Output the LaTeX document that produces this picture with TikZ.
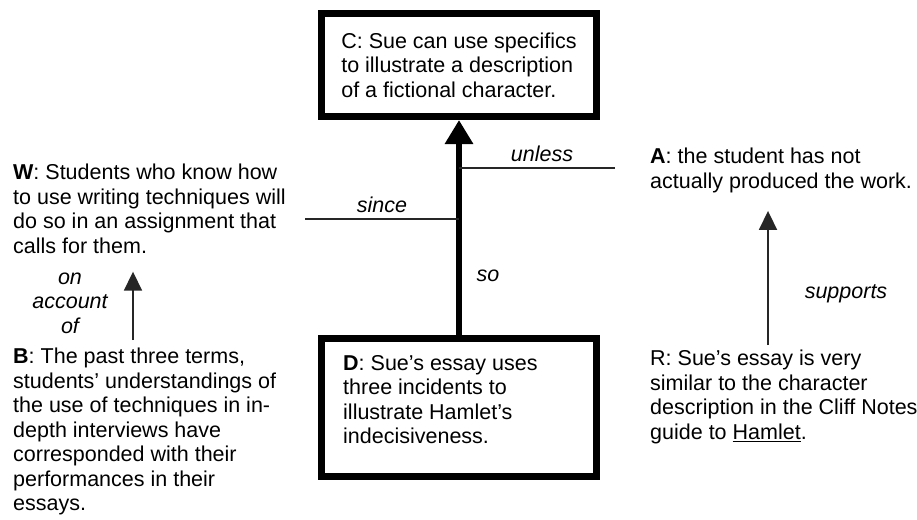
\documentclass[tikz,border=0pt]{standalone}
\usepackage{fontspec}
\setmainfont{Liberation Sans}
\usetikzlibrary{arrows.meta}
\begin{document}
\begin{tikzpicture}[x=1pt,y=-1pt,
  txt/.style={inner sep=0pt,align=left,anchor=north west,font=\fontsize{21.5}{24.5}\selectfont},
  lbl/.style={inner sep=0pt,font=\fontsize{21.5}{24.5}\selectfont\itshape},
  claimbox/.style={draw,line width=7pt,minimum width=275pt,inner sep=0pt,align=left,font=\fontsize{21.5}{24.5}\selectfont},
  link/.style={line width=1.5pt,black!85},
  backarrow/.style={line width=1.8pt,black!85,-{Triangle[length=19pt,width=18pt]}}]
		\useasboundingbox (0,0) rectangle (917,519);
		% claim and data
		\node[claimbox,minimum height=103pt] (C) at (459,65) {C: Sue can use specifics\\to illustrate a description\\of a fictional character.};
		\node[claimbox,minimum height=138pt] (D) at (459,407.5) {};
		\node[txt] (Dtext) at (343,355) {\textbf{D}: Sue’s essay uses\\three incidents to\\illustrate Hamlet’s\\indecisiveness.};
		\draw[line width=6pt,-{Triangle[length=24pt,width=27pt]}] (D.north) -- (C.south);
		\node[lbl,anchor=base] (so) at (488,281) {so};
		% warrant and backing
		\node[txt] (W) at (13,164) {\textbf{W}: Students who know how\\to use writing techniques will\\do so in an assignment that\\calls for them.};
		\node[txt] (B) at (13,348) {\textbf{B}: The past three terms,\\students’ understandings of\\the use of techniques in in-\\depth interviews have\\corresponded with their\\performances in their\\essays.};
		\coordinate (sinceEnd) at (305,219);
		\draw[link] (sinceEnd) -- (sinceEnd -| D.north);
		\node[lbl,anchor=base] (since) at (382,212) {since};
		\draw[backarrow] ([xshift=120pt,yshift=8pt]B.north west) -- ([xshift=120pt,yshift=-18pt]W.south west);
		\node[lbl,align=center] (account) at (70,303) {on\\account\\of};
		% rebuttal
		\node[txt] (A) at (650,148) {\textbf{A}: the student has not\\actually produced the work.};
		\node[txt] (R) at (650,350) {R: Sue’s essay is very\\similar to the character\\description in the Cliff Notes\\guide to \underline{Hamlet}.};
		\coordinate (unlessEnd) at (615,168);
		\draw[link] (unlessEnd) -- (unlessEnd -| D.north);
		\node[lbl,anchor=base] (unless) at (542,161) {unless};
		\draw[backarrow] ([xshift=118pt,yshift=5pt]R.north west) -- ([xshift=118pt,yshift=-18pt]A.south west);
		\node[lbl,anchor=base] (supports) at (846,298) {supports};
\end{tikzpicture}
\end{document}
